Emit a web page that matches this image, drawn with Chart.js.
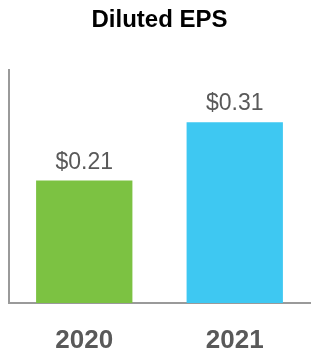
<!DOCTYPE html>
<html>
<head>
<meta charset="utf-8">
<script src="https://cdn.jsdelivr.net/npm/chart.js@4"></script>
<style>
html,body{margin:0;padding:0;background:#fff;}
#wrap{width:320px;height:360px;position:relative;}
</style>
</head>
<body>
<div id="wrap"><canvas id="c" width="320" height="360"></canvas></div>
<script>
const categories = ["2020", "2021"];
const epsValues = [0.21, 0.31];
const valueLabels = ["$0.21", "$0.31"];
const barColors = ["#7cc242", "#3ec8f2"];
const chartTitle = "Diluted EPS";

const valueLabelPlugin = {
  id: 'valueLabels',
  afterDatasetsDraw(chart) {
    const ctx = chart.ctx;
    const meta = chart.getDatasetMeta(0);
    ctx.save();
    ctx.fillStyle = '#595959';
    ctx.font = '23px "Liberation Sans", Arial, sans-serif';
    ctx.textAlign = 'center';
    ctx.textBaseline = 'alphabetic';
    meta.data.forEach((bar, i) => {
      ctx.fillText(valueLabels[i], bar.x, bar.y - 12);
    });
    ctx.restore();
  }
};

new Chart(document.getElementById('c'), {
  type: 'bar',
  data: {
    labels: categories,
    datasets: [{
      data: epsValues,
      backgroundColor: barColors,
      borderWidth: 0,
      categoryPercentage: 0.64,
      barPercentage: 1.0
    }]
  },
  options: {
    responsive: false,
    animation: false,
    devicePixelRatio: 1,
    layout: { padding: { left: 9, right: 10, top: 0, bottom: 0 } },
    plugins: {
      legend: { display: false },
      tooltip: { enabled: false },
      title: {
        display: true,
        text: chartTitle,
        color: '#000',
        font: { family: '"Liberation Sans", Arial, sans-serif', size: 24, weight: 'bold' },
        padding: { top: 6, bottom: 35 }
      }
    },
    scales: {
      x: {
        grid: { display: false, drawTicks: false },
        border: { display: true, color: '#9a9a9a', width: 2 },
        ticks: {
          color: '#595959',
          font: { family: '"Liberation Sans", Arial, sans-serif', size: 26, weight: 'bold' },
          padding: 22
        },
        afterFit(scale) { scale.height = 57; }
      },
      y: {
        min: 0,
        max: 0.4,
        grid: { display: false, drawTicks: false },
        border: { display: true, color: '#9a9a9a', width: 2 },
        ticks: { display: false },
        afterFit(scale) { scale.width = 0; }
      }
    }
  },
  plugins: [valueLabelPlugin]
});
</script>
</body>
</html>
